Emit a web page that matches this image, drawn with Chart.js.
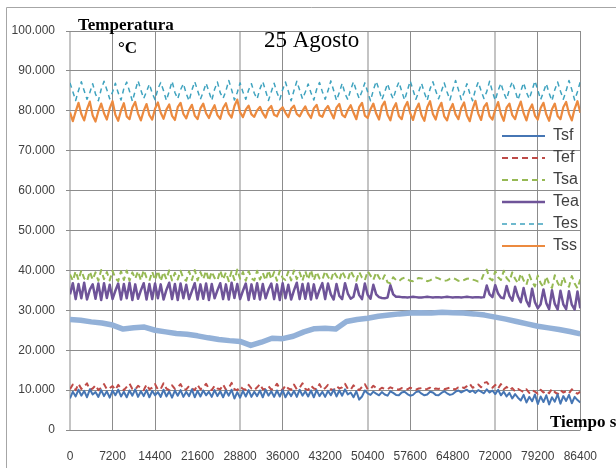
<!DOCTYPE html>
<html lang="es">
<head>
<meta charset="utf-8">
<title>25 Agosto</title>
<script src="https://cdn.jsdelivr.net/npm/chart.js@4.4.1/dist/chart.umd.min.js"></script>
<style>
  html, body { margin: 0; padding: 0; background: #fff; overflow: hidden; }
  canvas { display: block; }
</style>
</head>
<body>
<canvas id="grafico" width="616" height="468"></canvas>
<script>
// Paso de muestreo (s) de las series registradas y de la curva suave
const paso = 480;
const pasoCurva = 1800;

// Marcas de los ejes
const ticksX = [0, 7200, 14400, 21600, 28800, 36000, 43200, 50400, 57600, 64800, 72000, 79200, 86400];
const ticksY = [0, 10, 20, 30, 40, 50, 60, 70, 80, 90, 100];

// Nombres de las series (leyenda)
const nombres = ['Tsf', 'Tef', 'Tsa', 'Tea', 'Tes', 'Tss'];

// Valores (°C), uno cada 480 s
const tsf = [
    7.9, 9.6, 8.4, 10.1, 8.6, 9.8, 8.2, 10.2, 8.9, 9.5,
    8.3, 10.0, 8.5, 9.7, 8.1, 9.9, 8.7, 10.1, 8.4, 9.6,
    8.2, 9.9, 8.6, 10.2, 8.3, 9.7, 8.5, 10.0, 8.2, 9.8,
    8.7, 9.5, 8.3, 10.1, 8.4, 9.7, 8.1, 9.9, 8.6, 10.0,
    8.3, 9.6, 8.5, 10.2, 8.2, 9.8, 8.4, 9.9, 8.7, 9.6,
    8.3, 10.0, 8.5, 9.7, 8.2, 9.9, 8.6, 10.1, 7.9, 9.5,
    8.1, 9.8, 8.4, 10.0, 8.3, 9.6, 8.5, 9.9, 8.2, 10.1,
    8.6, 9.7, 8.3, 9.9, 8.4, 10.0, 8.2, 9.6, 8.5, 9.8,
    8.3, 10.1, 8.6, 9.7, 8.4, 9.9, 8.2, 10.0, 8.5, 9.6,
    8.3, 9.8, 8.7, 10.1, 8.4, 9.9, 8.6, 10.2, 8.9, 9.4,
    8.2, 9.7, 7.6, 8.4, 9.9, 9.2, 8.8, 9.6, 9.1, 8.7,
    9.5, 8.9, 8.6, 9.7, 9.3, 8.8, 8.7, 9.4, 9.6, 9.0,
    8.6, 8.8, 9.5, 9.7, 9.1, 8.7, 8.9, 9.6, 9.4, 8.8,
    8.7, 9.3, 9.7, 9.2, 8.8, 9.0, 9.6, 9.9, 9.4, 9.8,
    10.1, 9.5, 9.9, 9.3, 10.0, 9.6, 9.2, 10.2, 9.4, 9.9,
    9.0, 10.1, 8.7, 9.6, 8.4, 9.3, 7.9, 9.0, 8.1, 7.4,
    8.8, 6.9, 8.3, 7.2, 8.9, 6.5, 8.4, 7.0, 8.7, 6.4,
    8.2, 7.1, 8.9, 6.6, 8.5, 7.3, 8.8, 6.7, 8.3, 7.5,
    6.9
];
const tef = [
    10.2, 11.4, 10.0, 11.6, 10.3, 10.9, 11.7, 10.1, 10.4, 11.2,
    10.0, 10.6, 11.5, 10.2, 10.5, 11.0, 10.1, 11.3, 10.4, 10.0,
    10.8, 11.6, 10.3, 10.1, 11.1, 10.5, 10.0, 11.4, 10.2, 10.6,
    11.5, 10.1, 10.3, 11.7, 10.4, 10.0, 11.2, 10.3, 10.7, 11.5,
    10.1, 10.2, 11.0, 10.4, 10.0, 11.3, 10.2, 10.6, 11.6, 10.3,
    10.0, 11.1, 10.4, 10.2, 11.4, 10.1, 10.5, 11.8, 10.2, 10.0,
    10.9, 10.3, 10.1, 11.3, 10.4, 10.0, 10.7, 11.5, 10.2, 10.3,
    11.0, 10.1, 10.5, 11.6, 10.3, 10.0, 11.2, 10.4, 10.1, 11.4,
    10.2, 10.6, 11.7, 10.3, 10.0, 11.1, 10.4, 10.2, 11.5, 10.1,
    10.5, 11.3, 10.2, 10.0, 11.0, 10.4, 10.7, 11.6, 10.3, 10.1,
    11.2, 10.4, 10.0, 10.8, 11.5, 10.2, 10.3, 11.1, 10.5, 10.1,
    10.6, 10.3, 10.2, 10.7, 10.4, 10.3, 10.1, 10.5, 10.4, 10.2,
    10.6, 10.3, 10.1, 10.4, 10.5, 10.2, 10.3, 10.6, 10.1, 10.4,
    10.3, 10.5, 10.2, 10.4, 10.6, 10.3, 10.2, 10.7, 10.9, 10.5,
    11.0, 11.6, 10.6, 10.9, 11.4, 10.7, 11.8, 12.0, 11.1, 10.6,
    11.3, 10.4, 11.5, 10.2, 10.8, 10.0, 10.5, 9.7, 10.3, 9.9,
    9.5, 10.2, 9.3, 10.0, 9.6, 9.1, 10.1, 9.4, 9.8, 9.2,
    10.3, 9.5, 9.0, 10.0, 9.4, 9.7, 9.2, 10.2, 9.5, 9.1,
    9.6
];
const tsa = [
    39.0, 37.4, 39.8, 37.6, 40.0, 38.0, 37.3, 39.7, 37.7, 39.5,
    37.4, 40.1, 37.8, 39.6, 37.5, 39.9, 38.1, 37.3, 39.8, 37.6,
    40.0, 37.4, 39.5, 37.9, 39.8, 37.5, 40.1, 38.2, 37.4, 39.7,
    37.6, 39.9, 37.3, 39.6, 37.8, 40.0, 37.5, 39.4, 37.7, 39.9,
    38.0, 37.4, 39.8, 37.6, 40.1, 37.5, 39.6, 37.8, 39.9, 37.4,
    39.7, 38.1, 37.5, 40.0, 37.7, 39.5, 37.3, 39.8, 37.6, 40.2,
    37.9, 39.6, 37.4, 39.8, 38.0, 37.5, 39.9, 37.7, 39.4, 37.5,
    40.0, 37.8, 39.6, 37.4, 39.9, 38.1, 37.6, 39.7, 37.5, 40.0,
    37.8, 39.5, 37.4, 39.8, 37.7, 40.1, 37.5, 39.6, 38.0, 37.6,
    39.8, 38.4, 37.4, 39.7, 38.6, 37.5, 39.8, 38.3, 37.6, 39.9,
    38.5, 37.4, 39.6, 38.2, 37.5, 39.8, 38.7, 37.6, 39.5, 38.2,
    37.3, 38.8, 37.0, 36.8, 38.3, 37.6, 37.3, 37.9, 38.2, 37.8,
    37.4, 37.3, 37.7, 38.1, 38.0, 37.6, 37.3, 37.5, 37.9, 38.2,
    38.0, 37.6, 37.4, 37.5, 37.9, 38.1, 37.8, 37.4, 37.3, 37.6,
    37.9, 38.0, 37.7, 37.5, 37.2, 37.4, 39.2, 40.2, 38.0, 37.5,
    39.8, 38.3, 37.6, 39.9, 38.1, 37.3, 39.5, 37.9, 36.8, 39.2,
    37.5, 36.4, 38.9, 37.1, 36.0, 38.7, 36.8, 35.8, 38.5, 36.6,
    35.6, 38.8, 36.9, 35.7, 38.4, 36.5, 35.9, 38.6, 36.7, 35.5,
    37.8
];
const tea = [
    34.0, 36.8, 32.8, 36.6, 33.0, 36.9, 32.7, 35.2, 36.5, 32.9,
    36.7, 32.6, 36.8, 33.1, 36.4, 32.8, 34.9, 36.7, 32.7, 36.6,
    33.0, 36.9, 32.6, 36.5, 32.9, 35.0, 36.8, 32.7, 36.6, 32.8,
    36.7, 33.0, 36.5, 32.7, 35.1, 36.9, 32.8, 36.6, 32.6, 36.7,
    33.0, 36.4, 32.8, 34.8, 36.8, 32.7, 36.5, 32.9, 36.7, 32.6,
    36.6, 33.0, 35.0, 36.8, 32.8, 36.5, 32.7, 36.9, 33.1, 36.6,
    32.8, 34.9, 36.7, 32.6, 36.5, 32.9, 36.8, 32.7, 36.6, 33.0,
    35.2, 36.7, 32.8, 36.5, 32.6, 36.8, 33.0, 36.4, 32.7, 35.0,
    36.9, 32.8, 36.6, 32.9, 36.7, 32.7, 36.5, 33.0, 35.1, 36.8,
    32.8, 36.7, 34.0, 32.7, 36.6, 33.6, 32.8, 36.8, 34.2, 32.9,
    33.4, 36.5, 33.8, 32.8, 36.7, 33.9, 32.9, 36.4, 34.0, 33.3,
    33.1, 33.0, 33.2, 36.3, 34.0, 33.4, 33.4, 33.3, 33.3, 33.2,
    33.3, 33.4, 33.3, 33.2, 33.2, 33.3, 33.4, 33.3, 33.2, 33.3,
    33.3, 33.2, 33.3, 33.4, 33.3, 33.2, 33.3, 33.3, 33.2, 33.3,
    33.4, 33.3, 33.2, 33.3, 33.3, 33.2, 33.3, 36.2, 34.0, 33.3,
    36.3, 34.2, 33.2, 33.0, 36.1, 33.6, 32.4, 35.9, 33.5, 32.0,
    35.6, 32.4, 31.0, 35.4, 32.0, 30.5, 31.5, 35.2, 31.8, 30.3,
    35.0, 31.6, 30.2, 34.9, 31.5, 30.3, 34.8, 31.4, 30.2, 34.7,
    30.5
];
const tes = [
    87.0, 84.8, 82.6, 85.1, 87.3, 85.0, 82.9, 84.6,
    86.8, 84.2, 82.5, 85.4, 87.4, 85.3, 83.0, 84.7,
    86.9, 84.5, 82.7, 85.6, 87.2, 84.9, 82.4, 85.0,
    87.5, 85.2, 83.1, 84.8, 86.7, 84.4, 82.8, 85.5,
    87.1, 85.0, 82.6, 84.9, 87.4, 84.6, 83.0, 85.3,
    86.8, 84.3, 82.5, 85.2, 87.3, 85.1, 82.9, 84.7,
    86.9, 84.8, 82.6, 85.4, 87.2, 84.5, 83.1, 85.0,
    87.6, 85.3, 82.7, 84.6, 87.0, 84.7, 82.9, 85.2,
    86.8, 84.4, 83.0, 85.5, 87.3, 85.0, 82.6, 84.8,
    86.9, 84.6, 82.8, 85.3, 87.2, 84.9, 82.5, 85.1,
    87.4, 85.2, 83.0, 84.7, 86.7, 84.5, 82.7, 85.4,
    87.1, 84.8, 82.9, 85.0, 87.5, 85.1, 82.6, 84.6,
    86.9, 84.3, 82.8, 85.3, 87.3, 85.0, 83.1, 84.9,
    87.0, 84.7, 82.5, 85.2, 87.4, 85.3, 82.8, 84.7,
    86.8, 84.6, 83.0, 85.4, 87.2, 84.9, 82.7, 85.1,
    87.5, 85.2, 82.9, 84.8, 86.9, 84.5, 82.6, 85.5,
    87.3, 85.0, 83.0, 84.9, 87.0, 84.7, 82.7, 85.2,
    87.6, 85.3, 82.8, 84.6, 86.8, 84.4, 82.5, 85.3,
    87.2, 85.0, 83.1, 84.8, 87.4, 84.8, 82.6, 85.1,
    86.9, 84.5, 82.9, 85.4, 87.3, 85.1, 82.7, 84.9,
    87.0, 84.6, 83.0, 85.2, 87.5, 85.2, 82.8, 84.7,
    86.8, 84.4, 82.5, 85.3, 87.2, 84.9, 82.9, 85.0,
    87.6, 85.3, 82.7, 84.8, 87.3
];
const tss = [
    79.6, 77.4, 79.8, 82.0, 79.2, 77.6, 80.4, 82.3,
    78.8, 77.3, 79.9, 81.8, 79.4, 77.8, 80.6, 82.4,
    79.0, 77.5, 80.1, 81.9, 78.6, 77.9, 80.8, 82.2,
    79.3, 77.6, 80.0, 81.7, 78.9, 77.8, 80.5, 82.1,
    79.5, 78.0, 80.3, 81.6, 78.7, 77.7, 80.9, 82.0,
    79.2, 78.1, 80.2, 81.5, 78.8, 77.9, 80.6, 81.8,
    79.4, 78.2, 80.0, 81.4, 78.9, 78.0, 80.7, 81.9,
    79.3, 78.3, 81.2, 82.8, 79.6, 78.4, 80.3, 81.3,
    79.1, 78.5, 80.1, 81.0, 79.4, 78.3, 80.4, 81.2,
    79.0, 78.6, 80.2, 80.9, 79.5, 78.4, 80.5, 81.3,
    79.2, 78.6, 80.0, 81.1, 79.3, 78.2, 80.6, 81.5,
    78.9, 78.5, 80.3, 81.2, 79.6, 78.1, 80.8, 81.7,
    79.0, 78.4, 80.2, 81.4, 79.5, 77.9, 80.9, 82.0,
    78.8, 78.2, 80.4, 81.8, 79.3, 77.8, 81.1, 82.3,
    79.0, 77.6, 80.5, 81.9, 78.7, 77.9, 80.8, 82.2,
    79.4, 77.7, 80.3, 81.8, 78.9, 77.5, 80.9, 82.4,
    79.2, 77.8, 80.6, 82.0, 78.6, 77.6, 80.2, 81.7,
    79.1, 77.9, 80.7, 82.1, 78.8, 77.4, 80.4, 82.5,
    79.3, 77.7, 80.9, 81.9, 78.7, 77.8, 80.3, 82.2,
    79.2, 77.5, 80.8, 81.8, 78.9, 77.9, 80.5, 82.3,
    79.4, 77.6, 80.2, 81.6, 78.8, 77.8, 80.7, 82.0,
    79.1, 77.5, 80.4, 81.8, 78.7, 77.9, 80.9, 82.2,
    79.3, 77.6, 80.5, 82.4, 79.5
];
// Curva gruesa celeste sin nombre en la leyenda, uno cada 1800 s
const curvaSinNombre = [
    27.7, 27.5, 27.1, 26.8, 26.3, 25.3, 25.6, 25.8, 25.0, 24.6,
    24.2, 24.0, 23.6, 23.1, 22.7, 22.4, 22.2, 21.2, 22.0, 23.0,
    22.9, 23.5, 24.6, 25.4, 25.5, 25.3, 27.2, 27.7, 28.0, 28.5,
    28.8, 29.1, 29.3, 29.4, 29.3, 29.5, 29.4, 29.3, 29.1, 28.8,
    28.3, 27.8, 27.2, 26.6, 26.0, 25.6, 25.2, 24.7, 24.1
];

document.addEventListener('DOMContentLoaded', function () {
    // Convierte una lista de valores en puntos {x: tiempo, y: valor}
    function aPuntos(valores, p) {
        return valores.map((v, i) => ({ x: i * p, y: v }));
    }

    // Estilo de las líneas verticales de la cuadrícula (como en el original)
    const lineasClaras = [0, 28800, 50400, 72000];
    const sinLinea = [21600, 43200, 64800];

    const series = [tsf, tef, tsa, tea, tes, tss];
    const colores = ['#4676b4', '#be4b48', '#96b954', '#6f5499', '#3fa3bf', '#ec8a3f'];
    const grosores = [2, 2, 2, 2.5, 1.5, 2.2];
    const trazos = [[], [6, 4], [6, 4], [], [5, 4], []];

    const datasets = series.map((valores, k) => ({
        label: nombres[k],
        data: aPuntos(valores, paso),
        borderColor: colores[k],
        backgroundColor: colores[k],
        borderWidth: grosores[k],
        borderDash: trazos[k],
        pointRadius: 0,
        fill: false
    }));
    datasets.push({
        label: '',
        data: aPuntos(curvaSinNombre, pasoCurva),
        borderColor: '#93b1d8',
        backgroundColor: '#93b1d8',
        borderWidth: 5.5,
        pointRadius: 0,
        fill: false
    });

    // Fondo blanco y marco exterior gris
    const marco = {
        id: 'marco',
        beforeDraw(chart) {
            const c = chart.ctx;
            c.save();
            c.fillStyle = '#ffffff';
            c.fillRect(0, 0, chart.width, chart.height);
            c.strokeStyle = '#a6a6a6';
            c.lineWidth = 1;
            c.beginPath();
            c.moveTo(6.5, chart.height);
            c.lineTo(6.5, 7.5);
            c.lineTo(chart.width, 7.5);
            c.stroke();
            c.restore();
        }
    };

    // Textos sueltos: título y rótulos de ejes dentro del gráfico
    const textos = {
        id: 'textos',
        afterDraw(chart) {
            const c = chart.ctx;
            c.save();
            c.fillStyle = '#000000';
            c.textAlign = 'left';
            c.textBaseline = 'alphabetic';
            c.font = 'bold 17px "Liberation Serif", "Times New Roman", serif';
            c.fillText('Temperatura', 78, 30);
            c.fillText('°C', 118, 53);
            c.fillText('Tiempo s', 550, 427);
            c.font = '23px "Liberation Serif", "Times New Roman", serif';
            c.fillText('25 Agosto', 264, 47);
            c.restore();
        }
    };

    // Coloca la leyenda sobre el área del gráfico, a la derecha
    const posicionLeyenda = {
        id: 'posicionLeyenda',
        afterLayout(chart) {
            const ley = chart.legend;
            ley.left = 496;
            ley.top = 122;
            ley.width = 118;
            ley.height = 150;
            ley.right = ley.left + ley.width;
            ley.bottom = ley.top + ley.height;
        }
    };

    Chart.defaults.font.family = '"Liberation Sans", Arial, sans-serif';
    Chart.defaults.color = '#404040';

    const ctx = document.getElementById('grafico').getContext('2d');
    new Chart(ctx, {
        type: 'line',
        data: { datasets: datasets },
        options: {
            responsive: false,
            animation: false,
            layout: { padding: { top: 31, right: 21, left: 0, bottom: 0 } },
            elements: { line: { tension: 0, borderJoinStyle: 'round' } },
            plugins: {
                title: { display: false },
                tooltip: { enabled: false },
                legend: {
                    display: true,
                    position: 'chartArea',
                    align: 'start',
                    labels: {
                        usePointStyle: true,
                        pointStyle: 'line',
                        pointStyleWidth: 43,
                        boxHeight: 16,
                        padding: 6,
                        color: '#404040',
                        font: { family: '"Liberation Sans Narrow", "Liberation Sans", sans-serif', size: 16 },
                        // la muestra de la leyenda copia trazo, grosor y color de cada serie
                        generateLabels: (chart) => Chart.defaults.plugins.legend.labels.generateLabels(chart).map(item => {
                            const ds = chart.data.datasets[item.datasetIndex];
                            item.lineDash = ds.borderDash || [];
                            item.lineWidth = ds.borderWidth;
                            item.strokeStyle = ds.borderColor;
                            return item;
                        }),
                        filter: (item) => item.text !== ''
                    }
                }
            },
            scales: {
                x: {
                    type: 'linear',
                    min: 0,
                    max: 86400,
                    afterBuildTicks: (scale) => { scale.ticks = ticksX.map(v => ({ value: v })); },
                    afterFit: (scale) => { scale.height = 38; },
                    border: { display: false },
                    grid: {
                        drawTicks: false,
                        color: (c) => sinLinea.includes(c.tick.value) ? 'rgba(0,0,0,0)'
                            : lineasClaras.includes(c.tick.value) ? '#c4c4c4' : '#8c8c8c',
                        lineWidth: (c) => lineasClaras.includes(c.tick.value) ? 2 : 1
                    },
                    ticks: {
                        padding: 19,
                        maxRotation: 0,
                        autoSkip: false,
                        font: { size: 12 },
                        callback: (v) => String(v)
                    }
                },
                y: {
                    min: 0,
                    max: 100,
                    afterBuildTicks: (scale) => { scale.ticks = ticksY.map(v => ({ value: v })); },
                    afterFit: (scale) => { scale.width = 70; },
                    border: { display: false },
                    grid: { color: '#8c8c8c', lineWidth: 1, tickLength: 4 },
                    ticks: {
                        padding: 11,
                        font: { size: 12 },
                        callback: (v) => v === 0 ? '0' : v.toFixed(3)
                    }
                }
            }
        },
        plugins: [marco, textos, posicionLeyenda]
    });
});
</script>
</body>
</html>
